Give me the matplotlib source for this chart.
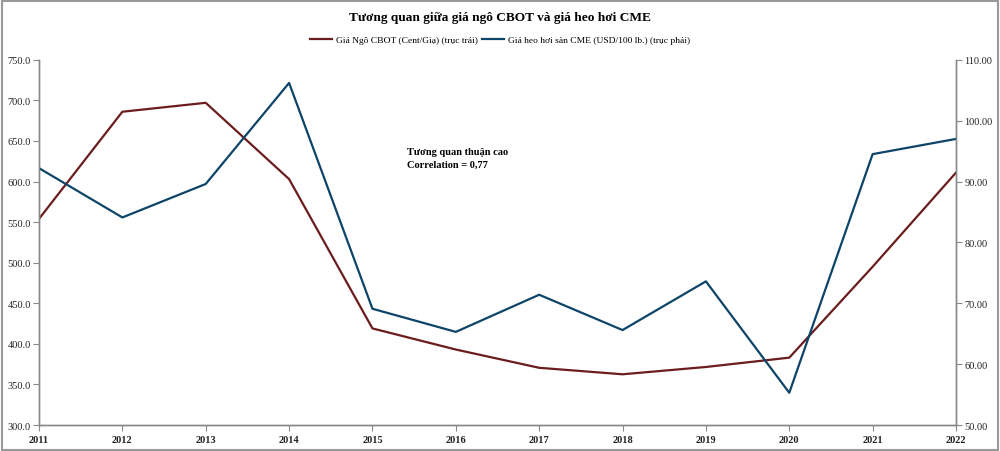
import numpy as np
import matplotlib.pyplot as plt
from matplotlib.patches import Rectangle

# Data
years = [2011, 2012, 2013, 2014, 2015, 2016, 2017, 2018, 2019, 2020, 2021, 2022]
corn_cbot = [554, 686, 697, 603, 419, 393, 370.5, 362.5, 371.5, 383, 495, 611]
hog_cme = [92.2, 84.1, 89.6, 106.2, 69.1, 65.3, 71.4, 65.6, 73.6, 55.3, 94.5, 97.0]

corn_label = 'Giá Ngô CBOT (Cent/Giạ) (trục trái)'
hog_label = 'Giá heo hơi sàn CME (USD/100 lb.) (trục phải)'
title = 'Tương quan giữa giá ngô CBOT và giá heo hơi CME'
note = 'Tương quan thuận cao\nCorrelation = 0,77'

RED = '#6b1d1d'
BLUE = '#0d4468'
GRID = '#888888'

plt.rcParams['font.family'] = ['Liberation Serif', 'DejaVu Serif']

fig = plt.figure(figsize=(10, 4.52), dpi=100)
ax1 = fig.add_axes([0.039, 0.0575, 0.917, 0.808])
ax2 = ax1.twinx()

l1, = ax1.plot(years, corn_cbot, color=RED, lw=1.6, label=corn_label)
l2, = ax2.plot(years, hog_cme, color=BLUE, lw=1.6, label=hog_label)

ax1.set_xlim(2011, 2022)
ax1.set_ylim(300, 750)
ax1.set_yticks(np.arange(300, 751, 50))
ax1.set_yticklabels([f'{v:.1f}' for v in np.arange(300, 751, 50)])
ax2.set_ylim(50, 110)
ax2.set_yticks(np.arange(50, 111, 10))
ax2.set_yticklabels([f'{v:.2f}' for v in np.arange(50, 111, 10)])
ax1.set_xticks(years)

for ax in (ax1, ax2):
    ax.spines['top'].set_visible(False)
    for s in ('left', 'right', 'bottom'):
        ax.spines[s].set_color(GRID)
        ax.spines[s].set_linewidth(1)
    ax.tick_params(colors=GRID, labelcolor='#222222', labelsize=7.5, length=4, pad=2)
ax1.tick_params(axis='x', labelsize=7.5, pad=3)
for lab in ax1.get_xticklabels():
    lab.set_fontweight('bold')

fig.text(0.5, 0.96, title, ha='center', va='center', fontsize=9.6, fontweight='bold')
fig.legend(handles=[l1, l2], loc='center', bbox_to_anchor=(0.5, 0.909), ncol=2,
           frameon=False, fontsize=6.8, handlelength=2.4, columnspacing=0.4,
           handletextpad=0.4)

ax1.text(2015.42, 629, note, fontsize=7.5, fontweight='bold', va='center', ha='left',
         linespacing=1.5)

# outer border of the picture
fig.patches.append(Rectangle((0.002, 0.002), 0.996, 0.994, transform=fig.transFigure,
                             fill=False, edgecolor='#999999', lw=1.5))

fig.savefig('out.png', dpi=100)
